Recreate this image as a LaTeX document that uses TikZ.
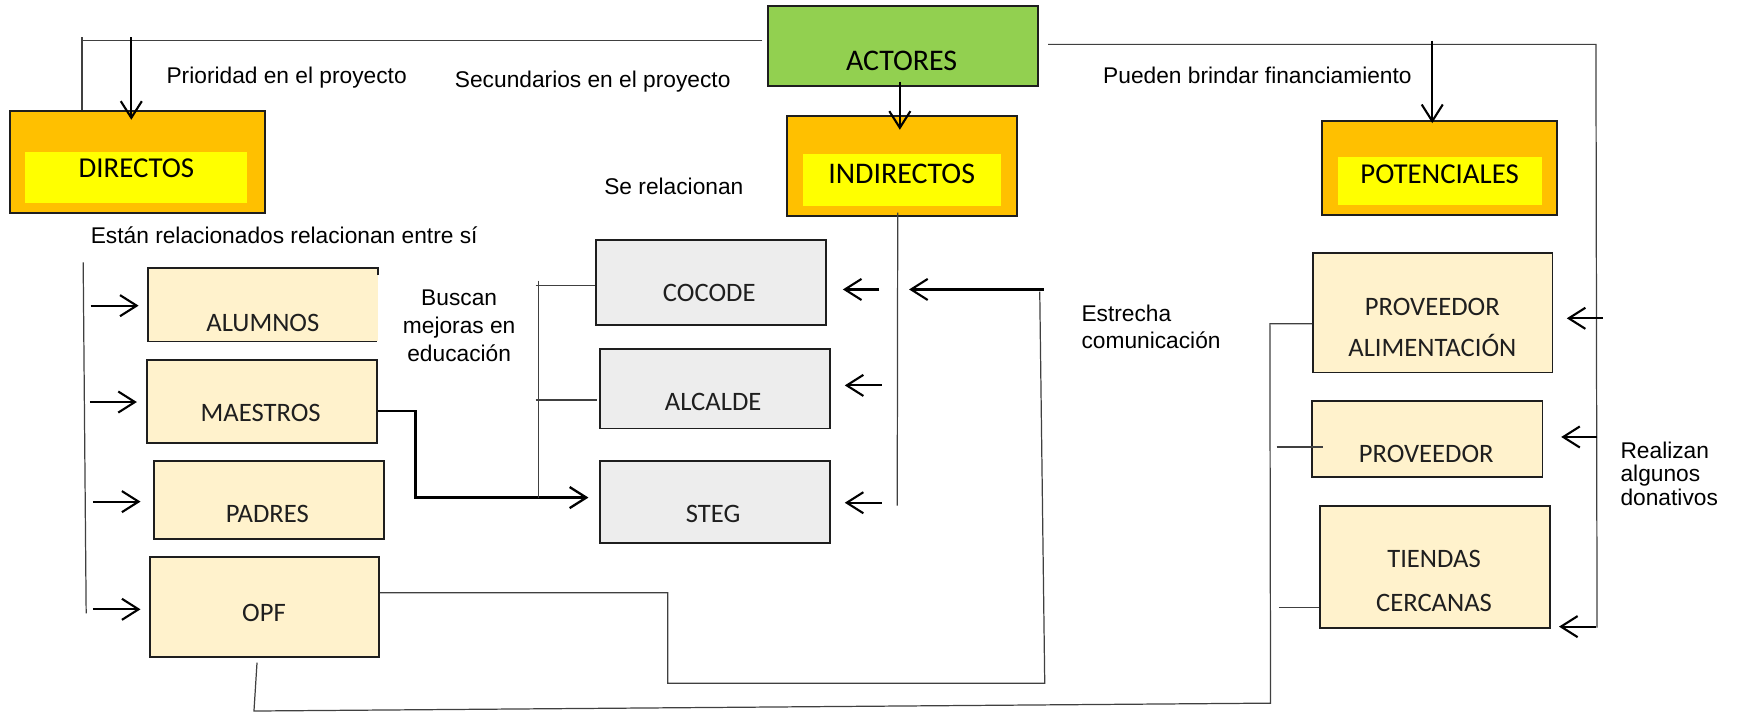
\documentclass[tikz,border=0pt]{standalone}
\usepackage{fontspec}
\setmainfont{Liberation Sans}
\newfontfamily\calfont{Carlito}
\usetikzlibrary{arrows.meta,backgrounds,calc}
\definecolor{orangeC}{HTML}{FFC000}
\definecolor{yelC}{HTML}{FFFF00}
\definecolor{creamC}{HTML}{FFF2CC}
\definecolor{grayC}{HTML}{EDEDED}
\definecolor{greenC}{HTML}{92D050}
\definecolor{lineC}{HTML}{404040}
\definecolor{edgeC}{HTML}{1E1E1E}
\begin{document}
\begin{tikzpicture}[x=1pt,y=-1pt,
  hdrbox/.style={draw=edgeC,line width=1.8pt,fill=orangeC,anchor=north west,inner sep=0pt},
  innerbox/.style={fill=yelC,anchor=north west,inner sep=0pt},
  creambox/.style={draw=edgeC,line width=1.7pt,fill=creamC,anchor=north west,inner sep=0pt},
  graybox/.style={draw=edgeC,line width=1.7pt,fill=grayC,anchor=north west,inner sep=0pt},
  hdrtext/.style={font=\calfont\fontsize{26}{30}\selectfont,text=black,inner sep=0pt,text height=16.5pt,text depth=0pt},
  bigtext/.style={hdrtext,font=\calfont\fontsize{27}{30}\selectfont,text height=17.4pt},
  boxtext/.style={font=\calfont\fontsize{24}{37.5}\selectfont,text=black!88,inner sep=0pt,align=center},
  onetext/.style={boxtext,text height=15.5pt,text depth=0pt},
  lbl/.style={font=\fontsize{20.5}{25}\selectfont,text=black,inner sep=0pt},
  conn/.style={draw=lineC,line width=1.1pt},
  arr/.style={draw=black,line width=1.9pt,-{Straight Barb[length=15pt,width=19pt]}},
]
\useasboundingbox (0,0) rectangle (1568,642);

% ---------- boxes ----------
\node[fill=greenC,draw=edgeC,line width=1.7pt,anchor=north west,inner sep=0pt,minimum width=243pt,minimum height=72.5pt] (actores) at (692,4.5) {};
\node[bigtext] (actoresT) at (813,55) {ACTORES};

\node[hdrbox,minimum width=230pt,minimum height=92pt] (directos) at (8,99) {};
\node[innerbox,minimum width=200pt,minimum height=46pt] (directosIn) at (22.7,136.8) {};
\node[hdrtext] (directosT) at (123,152) {DIRECTOS};

\node[hdrbox,minimum width=207.5pt,minimum height=90pt] (indirectos) at (709,104) {};
\node[innerbox,minimum width=178.5pt,minimum height=46.5pt] (indirectosIn) at (724,139) {};
\node[bigtext] (indirectosT) at (813,157) {INDIRECTOS};

\node[hdrbox,minimum width=212.4pt,minimum height=85pt] (potenciales) at (1191,108) {};
\node[innerbox,minimum width=183.5pt,minimum height=43.5pt] (potencialesIn) at (1206.5,141) {};
\node[hdrtext] (potencialesT) at (1298,157) {POTENCIALES};

% left column
\node[fill=creamC,anchor=north west,inner sep=0pt,minimum width=207pt,minimum height=65.5pt] (alumnos) at (133.4,242) {};
\draw[draw=edgeC,line width=1.7pt] ([yshift=-6pt]alumnos.north east) -- (alumnos.north east) -- (alumnos.north west) -- (alumnos.south west) -- ([xshift=-1pt]alumnos.south east);
\node[creambox,minimum width=207.4pt,minimum height=74.8pt] (maestros) at (131.4,323.7) {};
\node[creambox,minimum width=207.3pt,minimum height=71pt] (padres) at (137.7,414.5) {};
\node[creambox,minimum width=207pt,minimum height=90.2pt] (opf) at (134,501.3) {};

% middle column
\node[graybox,minimum width=207pt,minimum height=76.4pt] (cocode) at (536.6,215.5) {};
\node[graybox,minimum width=207.4pt,minimum height=72pt] (alcalde) at (540,313.5) {};
\node[graybox,minimum width=207.4pt,minimum height=74pt] (steg) at (540,414.8) {};

% right column
\node[creambox,minimum width=216pt,minimum height=107.5pt] (provalim) at (1183,227.5) {};
\node[creambox,minimum width=208pt,minimum height=68pt] (prov) at (1182,361) {};
\node[creambox,minimum width=208pt,minimum height=110pt] (tiendas) at (1189,455) {};

% box texts
\node[onetext] (alumnosT) at (237,291.5) {ALUMNOS};
\node[onetext] (maestrosT) at (235,372.7) {MAESTROS};
\node[onetext] (padresT) at (241,463.8) {PADRES};
\node[onetext] (opfT) at (238,552.4) {OPF};
\node[onetext] (cocodeT) at (639.5,264) {COCODE};
\node[onetext] (alcaldeT) at (643,362.8) {ALCALDE};
\node[onetext] (stegT) at (643,463) {STEG};
\node[boxtext,anchor=north] (provalimT) at (1291.5,268.3) {PROVEEDOR\\ALIMENTACIÓN};
\node[onetext] (provT) at (1286,409) {PROVEEDOR};
\node[boxtext,anchor=north,font=\calfont\fontsize{24}{39}\selectfont] (tiendasT) at (1293,496.3) {TIENDAS\\CERCANAS};

% ---------- labels ----------
\node[lbl,anchor=base west] (l1) at (150,75.7) {Prioridad en el proyecto};
\node[lbl,anchor=base west] (l2) at (410,79) {Secundarios en el proyecto};
\node[lbl,anchor=base east] (l3) at (1273,75.7) {Pueden brindar financiamiento};
\node[lbl,anchor=base west] (l4) at (544.7,175.8) {Se relacionan};
\node[lbl,anchor=base west] (l5) at (81.7,220) {Están relacionados relacionan entre sí};
\node[lbl,anchor=north,align=center] (l6) at (414,261.5) {Buscan\\mejoras en\\educación};
\node[lbl,anchor=north west,align=left,font=\fontsize{20.5}{24.6}\selectfont] (l7) at (975,274.5) {Estrecha\\comunicación};
\node[lbl,anchor=north west,align=left,font=\fontsize{20.5}{21.2}\selectfont] (l8) at (1461,398) {Realizan\\algunos\\donativos};

% ---------- coordinates ----------
\coordinate (tlA) at (73,36.7);
\coordinate (tlB) at (687.4,36.7);
\coordinate (lvA) at (74,33.7);
\coordinate (lvB) at (74,192.4);
\coordinate (trA) at (945,40);
\coordinate (trB) at (1439,40);
\coordinate (trC) at (1440,566);
\coordinate (aD) at (118.4,33.7);
\coordinate (aP) at (1291.4,36.7);
\coordinate (ivB) at (809,456);
\coordinate (llA) at (75,236.5);
\coordinate (llB) at (77.7,553);
\coordinate (brA) at (485.6,253);
\coordinate (brB) at (485.6,449.4);
\coordinate (brT1) at (483,257.6);
\coordinate (brT2) at (483,360.7);
\coordinate (eA) at (941,261);
\coordinate (eB) at (819.7,261);
\coordinate (ecA) at (937.5,263);
\coordinate (ecB) at (942,616);
\coordinate (ecC) at (602,616);
\coordinate (ecD) at (602,534.4);
\coordinate (btA) at (229,641.1);
\coordinate (btB) at (1145.6,634);
\coordinate (btC) at (1145,292);
\coordinate (tk1) at (1151,403);
\coordinate (tk2) at (1153,547.6);
\coordinate (sa1) at (793,261);
\coordinate (sa2) at (795,347.5);
\coordinate (sa3) at (795,453.3);
\coordinate (la1) at (81.7,275.6);
\coordinate (la2) at (81,362.5);
\coordinate (la3) at (83.7,452.3);
\coordinate (la4) at (83.7,549.4);
\coordinate (ra1) at (1445,287);
\coordinate (ra2) at (1440,394);
\coordinate (ra3) at (1439,565);

% ---------- connectors behind boxes ----------
\begin{scope}[on background layer]
\draw[conn] (tlB) -- (tlA);
\draw[conn] (lvA) -- (lvB);
\end{scope}

% ---------- connectors ----------
\draw[conn] (trA) -- (trB) -- (trC);
\draw[arr] (aD) -- ([yshift=-9pt]directos.north -| aD);
\draw[arr] ([xshift=-3pt,yshift=5pt]actores.south) -- ([xshift=-2.3pt,yshift=-13pt]indirectos.north);
\draw[arr] (aP) -- ([yshift=-3pt]potenciales.north -| aP);
\draw[conn] ([xshift=-4.2pt,yshift=4pt]indirectos.south) -- (ivB);

% left column
\draw[conn] (llA) -- (llB);
\draw[arr,shorten >=8.4pt] (la1) -- (la1 -| alumnos.west);
\draw[arr,shorten >=8pt] (la2) -- (la2 -| maestros.west);
\draw[arr,shorten >=11pt] (la3) -- (la3 -| padres.west);
\draw[arr,shorten >=7.3pt] (la4) -- (la4 -| opf.west);

% maestros -> steg
\draw[arr,line width=2.1pt,shorten >=9.4pt] ([yshift=-8.6pt]maestros.east) -- ++(34,0) |- ([yshift=4pt]steg.west);

% bracket
\draw[conn] (brA) -- (brB);
\draw[conn] (brT1) -- (brT1 -| cocode.west);
\draw[conn] (brT2) -- ([xshift=-2pt]brT2 -| alcalde.west);

% arrows into middle boxes
\draw[arr,shorten >=14.7pt] (sa1) -- (sa1 -| cocode.east);
\draw[arr,shorten >=12.6pt] (sa2) -- (sa2 -| alcalde.east);
\draw[arr,shorten >=12.6pt] (sa3) -- (sa3 -| steg.east);

% estrecha comunicacion
\draw[arr] (eA) -- (eB);
\draw[conn] (ecA) -- (ecB) -- (ecC) -- (ecD) -- (ecD -| opf.east);

% bottom line
\draw[conn] ([xshift=-6.6pt,yshift=-4.2pt]opf.south) -- (btA) -- (btB) -- (btC) -- (btC -| provalim.west);
\draw[conn] (tk1) -- ([xshift=11pt]tk1 -| prov.west);
\draw[conn] (tk2) -- (tk2 -| tiendas.west);

% arrows into right boxes
\draw[arr,shorten >=12pt] (ra1) -- (ra1 -| provalim.east);
\draw[arr,shorten >=16pt] (ra2) -- (ra2 -| prov.east);
\draw[arr,shorten >=7pt] (ra3) -- (ra3 -| tiendas.east);
\end{tikzpicture}
\end{document}
